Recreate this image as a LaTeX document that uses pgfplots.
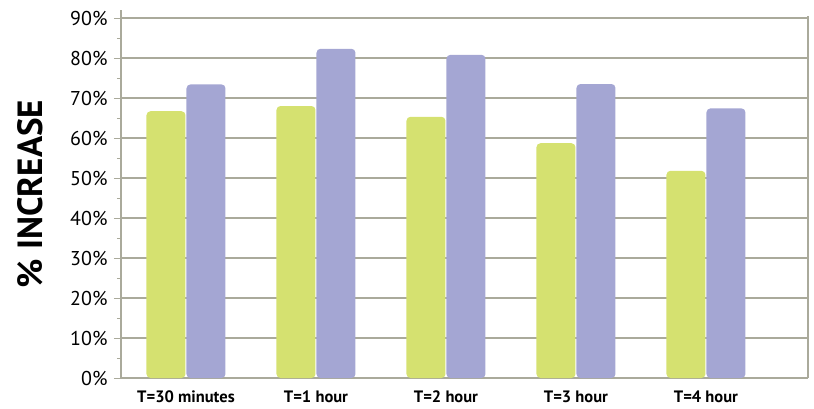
\documentclass[border=0pt]{standalone}
\usepackage{pgfplots}
\pgfplotsset{compat=1.18}
\usepackage{fontspec}
\setmainfont{PT Sans}
\definecolor{barGreen}{RGB}{213,225,112}
\definecolor{barPurple}{RGB}{164,166,211}
\definecolor{gridOlive}{RGB}{170,170,155}
\begin{document}
\begin{tikzpicture}
\path[use as bounding box] (0,0) rectangle (814pt,408pt);
\begin{axis}[
    at={(121pt,30pt)}, anchor=south west,
    scale only axis,
    width=687pt, height=368pt,
    ybar=1pt, bar width=39pt,
    xmin=-0.5, xmax=4.785,
    ymin=0, ymax=92,
    axis line style={gridOlive, line width=1.3pt},
    axis x line*=bottom,
    axis y line*=left,
    ytick={0,10,...,90},
    minor y tick num=1,
    yticklabel={\pgfmathprintnumber{\tick}\%},
    /pgf/number format/assume math mode=true,
    yticklabel style={font=\fontsize{20}{20}\selectfont, xshift=-3pt},
    ymajorgrids=true,
    grid style={gridOlive, line width=1.3pt},
    ytick style={gridOlive, line width=1pt},
    major tick length=7pt, minor tick length=4pt,
    tick align=outside,
    xtick={0,1,2,3,4},
    xticklabels={T=30 minutes, T=1 hour, T=2 hour, T=3 hour, T=4 hour},
    xticklabel style={font=\bfseries\fontsize{16.5}{16.5}\selectfont, yshift=-2pt},
    xtick style={draw=none},
    extra x ticks={0.5,1.5,2.5,3.5,4.5},
    extra x tick labels={},
    extra x tick style={grid=none, tick style={draw=gridOlive, line width=1.3pt}, major tick length=10pt},
    ylabel={\% INCREASE},
    ylabel style={font=\bfseries\fontsize{35}{35}\selectfont, at={(rel axis cs:0,0.5)}, yshift=91pt, anchor=center},
    clip=false,
]
\draw[gridOlive, line width=1.3pt] (rel axis cs:1,0) -- (rel axis cs:1,0.985);
\addplot[fill=barGreen, draw=none, rounded corners=4pt]
    coordinates {(0,66.7) (1,68.0) (2,65.3) (3,58.7) (4,51.8)};
\addplot[fill=barPurple, draw=none, rounded corners=4pt]
    coordinates {(0,73.4) (1,82.3) (2,80.8) (3,73.5) (4,67.4)};
\end{axis}
\end{tikzpicture}
\end{document}
